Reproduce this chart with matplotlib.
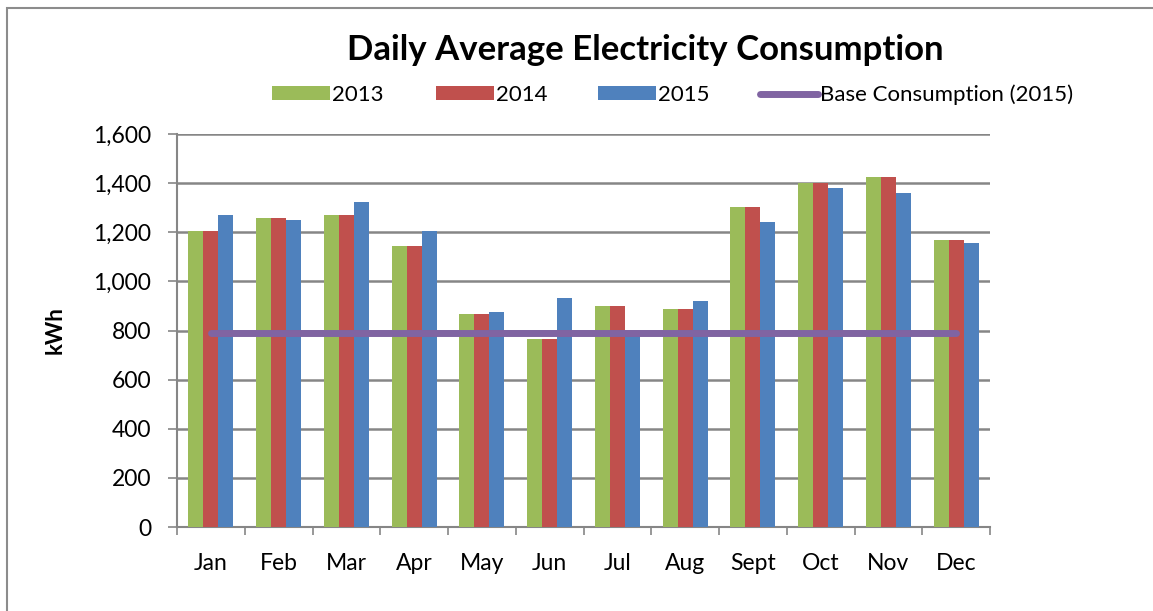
import matplotlib
matplotlib.use('Agg')
import matplotlib.pyplot as plt
import numpy as np
from matplotlib.patches import Rectangle

months = ['Jan', 'Feb', 'Mar', 'Apr', 'May', 'Jun', 'Jul', 'Aug', 'Sept', 'Oct', 'Nov', 'Dec']
y2013 = [1205, 1259, 1270, 1145, 866, 765, 898, 887, 1303, 1402, 1424, 1167]
y2014 = [1205, 1259, 1270, 1145, 866, 765, 898, 887, 1303, 1402, 1424, 1167]
y2015 = [1271, 1250, 1323, 1205, 875, 931, 795, 920, 1240, 1380, 1361, 1155]
base_2015 = [788] * 12

plt.rcParams['font.family'] = ['Lato', 'DejaVu Sans']

fig = plt.figure(figsize=(11.53, 6.11), dpi=100)
fig.patches.append(Rectangle((7 / 1153, -0.2), 1.2, 1.2 - 8 / 611, transform=fig.transFigure,
                             fill=False, edgecolor='#8c8c8c', linewidth=1.5))

ax = fig.add_axes([177 / 1153, 1 - 527 / 611, 813 / 1153, 393 / 611])
x = np.arange(len(months))
w = 0.222
b1 = ax.bar(x - w, y2013, w, color='#9BBB59', label='2013', zorder=3)
b2 = ax.bar(x, y2014, w, color='#C0504D', label='2014', zorder=3)
b3 = ax.bar(x + w, y2015, w, color='#4F81BD', label='2015', zorder=3)
ln, = ax.plot(x, base_2015, color='#8064A2', linewidth=5, solid_capstyle='round',
              label='Base Consumption (2015)', zorder=4)

ax.set_xlim(-0.5, len(months) - 0.5)
ax.set_ylim(0, 1600)
ax.set_yticks(range(0, 1601, 200))
ax.set_yticklabels([f'{v:,}' for v in range(0, 1601, 200)])
ax.set_xticks(x)
ax.set_xticklabels(months)
ax.set_xticks(np.arange(-0.5, len(months), 1), minor=True)
ax.tick_params(axis='x', which='major', length=0, pad=19, labelsize=16.5)
ax.tick_params(axis='x', which='minor', length=6, color='#868686', width=1.2)
ax.tick_params(axis='y', length=6.5, color='#868686', width=1.2, labelsize=16.5, pad=12)
ax.yaxis.grid(True, color='#868686', linewidth=1.8, zorder=0)
ax.set_axisbelow(True)
for s in ['top', 'right']:
    ax.spines[s].set_visible(False)
for s in ['left', 'bottom']:
    ax.spines[s].set_color('#868686')
    ax.spines[s].set_linewidth(1.5)
ax.set_ylabel('kWh', fontsize=16, fontweight='bold', labelpad=20)

fig.text(645 / 1153, 1 - 50 / 611, 'Daily Average Electricity Consumption',
         ha='center', va='center', fontsize=25, fontweight='bold')

# legend entries placed individually, like the spreadsheet layout
leg_x = [272, 436, 598, 760]
for h, xs in zip([b1, b2, b3, ln], leg_x):
    lg = fig.legend([h], [h.get_label()], loc='center left',
                    bbox_to_anchor=(xs / 1153, 1 - 95 / 611), frameon=False,
                    fontsize=16, handlelength=2.6, handleheight=0.55,
                    handletextpad=0.1, borderpad=0, borderaxespad=0)

fig.savefig('out.png', dpi=100)
